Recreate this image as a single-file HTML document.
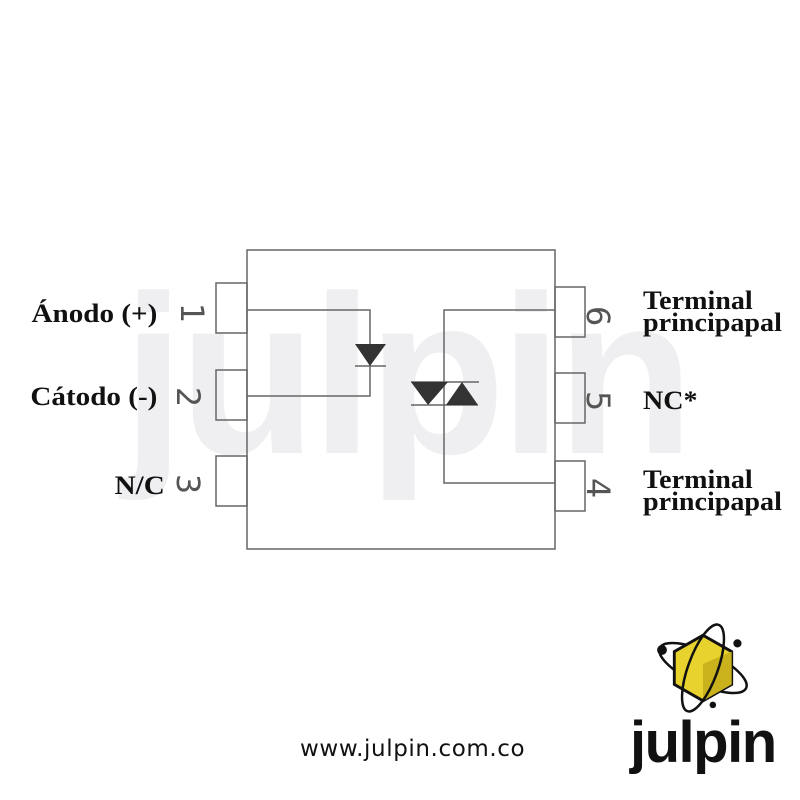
<!DOCTYPE html>
<html><head><meta charset="utf-8"><style>
body{margin:0;width:800px;height:800px;background:#fff;position:relative;overflow:hidden}
.wm{position:absolute;left:122px;top:262px;font:bold 226px "Liberation Sans",sans-serif;color:#efeff1;letter-spacing:-6px;line-height:1}
.lbl{position:absolute;font:bold 26px "Liberation Serif","DejaVu Serif",serif;color:#111;line-height:22px;white-space:nowrap}
.l{transform:scaleX(1.12);transform-origin:right center;text-align:right}
.r{transform:scaleX(1.08);transform-origin:left center}
.num{position:absolute;font:32px "DejaVu Sans","Liberation Sans",sans-serif;color:#555;transform:rotate(90deg);line-height:1}
</style></head><body>
<div class="wm">julpin</div>
<svg width="800" height="800" style="position:absolute;left:0;top:0">
<g fill="none" stroke="#666" stroke-width="1.5">
<rect x="247" y="250" width="308" height="299"/>
<rect x="216" y="283" width="31" height="50"/>
<rect x="216" y="370" width="31" height="50"/>
<rect x="216" y="456" width="31" height="50"/>
<rect x="555" y="287" width="30" height="50"/>
<rect x="555" y="373" width="30" height="50"/>
<rect x="555" y="461" width="30" height="50"/>
<polyline points="247,310 370,310 370,396 247,396"/>
<polyline points="555,310 444,310 444,483 555,483"/>
<line x1="355" y1="366" x2="386" y2="366"/>
<line x1="411" y1="382" x2="479" y2="382"/>
<line x1="411" y1="405" x2="478" y2="405"/>
</g>
<g fill="#333">
<polygon points="355,344 386,344 370,366"/>
<polygon points="411,382 448,382 428,405"/>
<polygon points="446,405 478,405 462,382"/>
</g>
<g transform="translate(703,668) scale(0.82)">
<ellipse cx="0" cy="0" rx="58" ry="20" transform="rotate(25)" fill="none" stroke="#111" stroke-width="3"/>
<polygon points="0,-40 35,-20 35,20 0,40 -35,20 -35,-20" fill="#e8d22e" stroke="#111" stroke-width="3.5"/>
<polygon points="0,-5 35,-20 35,20 0,40" fill="#c9b21c"/>
<ellipse cx="0" cy="0" rx="56" ry="18" transform="rotate(-70)" fill="none" stroke="#111" stroke-width="3"/>
<circle cx="-50" cy="-22" r="6" fill="#111"/><circle cx="42" cy="-30" r="5" fill="#111"/><circle cx="12" cy="45" r="4" fill="#111"/>
</g>
</svg>
<div class="lbl l" style="right:643px;top:303px">Ánodo (+)</div>
<div class="lbl l" style="right:643px;top:386px">Cátodo (-)</div>
<div class="lbl l" style="right:635px;top:475px">N/C</div>
<div class="lbl r" style="left:643px;top:290px">Terminal<br>principapal</div>
<div class="lbl r" style="left:643px;top:390px">NC*</div>
<div class="lbl r" style="left:643px;top:469px">Terminal<br>principapal</div>
<div class="num" style="left:182px;top:297px">1</div>
<div class="num" style="left:178px;top:381px">2</div>
<div class="num" style="left:178px;top:468px">3</div>
<div class="num" style="left:588px;top:300px">6</div>
<div class="num" style="left:588px;top:385px">5</div>
<div class="num" style="left:588px;top:472px">4</div>
<div style="position:absolute;left:300px;top:736px;font:23px 'DejaVu Sans','Liberation Sans',sans-serif;color:#111;letter-spacing:0.6px">www.julpin.com.co</div>
<div style="position:absolute;left:630px;top:714px;font:bold 58px 'Liberation Sans',sans-serif;color:#111;letter-spacing:-1.5px;line-height:1">julpin</div>
</body></html>
